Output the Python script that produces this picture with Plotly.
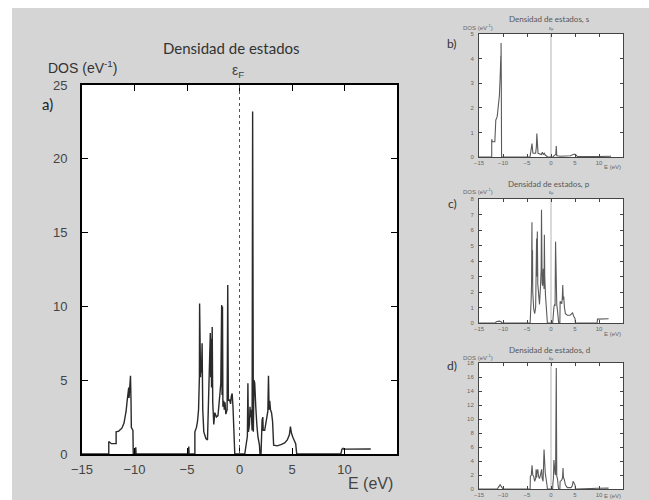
import plotly.graph_objects as go

# ---------------- data ----------------
E_FERMI = 0.0

main_E = [-15.0, -12.45, -12.45, -12.2, -11.75, -11.75, -11.5, -11.2, -11.0, -10.8, -10.7, -10.6,
          -10.55, -10.52, -10.48, -10.45, -10.42, -10.38, -10.33, -10.3, -10.15, -10.12, -9.9, -9.88,
          -9.85, -4.85, -4.83, -4.8, -4.25, -4.25, -4.1, -4.0, -3.9, -3.82, -3.8, -3.77, -3.74, -3.71,
          -3.68, -3.62, -3.56, -3.5, -3.4, -3.2, -3.05, -2.98, -2.92, -2.85, -2.78, -2.74, -2.7, -2.66,
          -2.6, -2.55, -2.45, -2.35, -2.2, -2.05, -1.95, -1.85, -1.78, -1.7, -1.66, -1.62, -1.58, -1.5,
          -1.45, -1.38, -1.3, -1.18, -1.12, -1.06, -0.95, -0.85, -0.78, -0.7, -0.62, -0.5, -0.45, 0.5,
          0.55, 0.65, 0.75, 0.8, 0.85, 0.95, 1.0, 1.05, 1.1, 1.15, 1.2, 1.25, 1.32, 1.38, 1.45, 1.5,
          1.55, 1.65, 1.75, 1.9, 1.95, 2.05, 2.08, 2.15, 2.22, 2.26, 2.4, 2.5, 2.6, 2.7, 2.76, 2.82,
          2.88, 2.95, 3.05, 3.15, 3.25, 3.6, 4.0, 4.3, 4.55, 4.75, 4.85, 4.95, 5.1, 5.25, 5.35, 5.45,
          9.65, 9.75, 9.85, 9.9, 12.5]
main_dos = [0, 0, 0.85, 0.7, 0.7, 1.5, 1.55, 1.75, 2.1, 2.9, 3.6, 4.2,
            4.5, 3.8, 4.6, 3.8, 4.5, 5.3, 3.5, 1.8, 1.6, 0, 0, 0.45,
            0, 0, 0.5, 0, 0, 1.5, 1.8, 2.2, 3.0, 5.2, 10.2, 5.3, 6.4, 5.2,
            6.3, 5.5, 7.5, 3.0, 1.5, 1.05, 0.95, 2.5, 5.0, 5.6, 8.2, 5.2, 7.8, 4.5,
            8.6, 3.5, 2.0, 2.8, 2.5, 2.6, 3.2, 4.2, 4.8, 10.1, 4.0, 10.0, 3.2, 3.6,
            3.0, 3.5, 2.7, 3.0, 11.45, 3.6, 3.7, 3.4, 3.9, 4.1, 3.2, 0.3, 0, 0,
            0.3, 0.9, 1.2, 4.8, 1.5, 2.0, 3.2, 2.5, 3.0, 2.4, 1.6, 23.2, 1.5, 5.0, 4.8, 3.5,
            3.2, 2.0, 1.2, 0.6, 0, 0, 2.0, 2.3, 2.5, 1.6, 1.6, 2.1, 2.5, 2.9, 5.3, 3.0,
            3.6, 3.0, 2.8, 2.2, 0.6, 0.55, 0.65, 0.75, 0.95, 1.3, 1.85, 1.4, 1.1, 0.9, 0.7, 0,
            0, 0.32, 0.38, 0.33, 0.34]

s_E = [-15, -12.35, -12.35, -12.2, -11.7, -11.65, -11.5, -11.2, -10.95, -10.75, -10.6, -10.55,
       -10.5, -10.48, -10.45, -10.42, -10.4, -10.35, -10.3, -4.4, -4.3, -4.1, -3.95, -3.85, -3.75,
       -3.2, -3.05, -2.95, -2.85, -2.7, -2.0, -1.8, -1.6, -1.4, -1.2, -0.9, -0.7, 0.5, 0.6, 1.0,
       1.1, 1.2, 2.0, 4.0, 4.6, 4.9, 5.2, 5.5, 9.7, 12.5]
s_dos = [0, 0, 0.72, 0.62, 0.62, 1.45, 1.5, 1.65, 2.0, 2.5, 3.2, 3.5,
         4.0, 3.4, 4.1, 3.4, 4.63, 3.0, 0, 0, 0.1, 0.3, 0.55, 0.3, 0.15,
         0.15, 0.4, 0.95, 0.4, 0.15, 0.1, 0.2, 0.1, 0.15, 0.08, 0.05, 0, 0, 0.05, 0.1,
         0.45, 0.05, 0.03, 0.05, 0.08, 0.12, 0.08, 0.02, 0.02, 0.03]

p_E = [-15, -11.6, -11.4, -10.8, -10.4, -10.2, -4.35, -4.3, -4.15, -4.05, -3.97, -3.92, -3.85,
       -3.8, -3.6, -3.4, -3.2, -3.1, -3.0, -2.95, -2.85, -2.75, -2.6, -2.4, -2.2, -2.05, -1.98,
       -1.95, -1.92, -1.85, -1.75, -1.6, -1.45, -1.38, -1.3, -1.15, -1.0, -0.8, -0.75, 0.35, 0.45,
       0.6, 0.75, 0.85, 0.95, 1.05, 1.2, 1.35, 1.5, 1.6, 1.85, 1.9, 2.1, 2.25, 2.35, 2.45, 2.55,
       2.65, 2.8, 3.0, 3.4, 4.0, 4.3, 4.5, 4.7, 5.0, 5.1, 9.6, 9.7, 12.0]
p_dos = [0, 0, 0.08, 0.12, 0.08, 0, 0, 1.2, 1.4, 2.5, 6.5, 3.5, 4.7,
         2.0, 0.9, 0.6, 1.0, 3.4, 5.45, 3.0, 5.9, 2.5, 1.5, 1.2, 2.3, 3.5, 7.3,
         3.0, 7.0, 2.6, 2.4, 3.5, 2.2, 5.7, 3.0, 1.8, 1.2, 0.3, 0, 0, 0.7,
         1.0, 1.2, 1.1, 5.25, 1.3, 1.2, 0.8, 0.2, 0, 0, 1.4, 1.3, 1.25, 1.6, 2.45, 1.5,
         1.7, 1.0, 0.6, 0.5, 0.5, 0.6, 0.65, 0.45, 0.3, 0, 0, 0.25, 0.27]

d_E = [-15, -11.2, -10.9, -10.6, -10.3, -10.0, -4.35, -4.3, -4.1, -3.95, -3.8, -3.6, -3.4,
       -3.2, -3.1, -3.0, -2.9, -2.75, -2.6, -2.4, -2.2, -2.1, -1.95, -1.85, -1.65, -1.45, -1.35,
       -1.2, -1.05, -0.95, -0.8, -0.75, 0.35, 0.4, 0.5, 0.6, 0.7, 0.85, 0.95, 1.1, 1.2, 1.35,
       1.5, 1.6, 1.85, 1.9, 2.1, 2.25, 2.4, 2.5, 2.6, 2.75, 3.0, 3.4, 4.2, 4.45, 4.6, 4.8, 5.0,
       5.1, 9.6, 9.7, 12.0]
d_dos = [0, 0, 0.3, 0.6, 0.3, 0, 0, 1.8, 2.0, 3.4, 2.0, 1.8, 1.1,
         1.5, 2.8, 1.6, 2.5, 2.8, 1.8, 1.5, 2.0, 2.3, 2.8, 1.6, 1.1, 5.65, 2.8,
         2.3, 1.6, 1.3, 0.4, 0, 0, 0.86, 1.5, 4.15, 2.8, 2.2, 2.0, 17.3, 1.8, 1.5,
         0.4, 0, 0, 1.1, 1.2, 1.3, 1.6, 3.0, 1.6, 1.4, 0.6, 0.2, 0.2, 0.5, 1.1, 0.7, 0.6,
         0, 0, 0.1, 0.12]

main_xticks = [-15, -10, -5, 0, 5, 10]
main_yticks = [0, 5, 10, 15, 20, 25]
small_xticks = [-15, -10, -5, 0, 5, 10]
s_yticks = [0, 1, 2, 3, 4, 5]
p_yticks = [0, 1, 2, 3, 4, 5, 6, 7, 8]
d_yticks = [0, 2, 4, 6, 8, 10, 12, 14, 16, 18]

panel_titles = ["Densidad de estados", "Densidad de estados, s",
                "Densidad de estados, p", "Densidad de estados, d"]
panel_letters = ["a)", "b)", "c)", "d)"]

# ---------------- figure ----------------
W, H = 649, 500
BG = "#d5d5d5"


def px(x):
    return x / W


def py(y):
    return 1 - y / H


fig = go.Figure()

fig.add_trace(go.Scatter(x=main_E, y=main_dos, mode="lines",
                         line=dict(color="#2a2a2a", width=1.4), xaxis="x", yaxis="y",
                         showlegend=False, hoverinfo="skip"))
for (ex, dy, ax) in [(s_E, s_dos, "2"), (p_E, p_dos, "3"), (d_E, d_dos, "4")]:
    fig.add_trace(go.Scatter(x=ex, y=dy, mode="lines",
                             line=dict(color="#5a5a5a", width=1.1), xaxis="x" + ax, yaxis="y" + ax,
                             showlegend=False, hoverinfo="skip"))

main_font = dict(family="Liberation Sans, Arial, sans-serif", size=13, color="#444444")
small_font = dict(family="Liberation Sans, Arial, sans-serif", size=6, color="#666666")

common_main = dict(showline=True, linecolor="black", linewidth=2, mirror="ticks",
                   ticks="inside", ticklen=6, tickwidth=1, tickcolor="black",
                   showgrid=False, zeroline=False, tickfont=main_font, automargin=False)
common_small = dict(showline=True, linecolor="#444444", linewidth=1, mirror="ticks",
                    ticks="inside", ticklen=3, tickwidth=0.8, tickcolor="#444444",
                    showgrid=False, zeroline=False, tickfont=small_font, automargin=False)

main_dom_x = [px(82), px(397)]
main_dom_y = [py(454), py(85)]
small_dom_x = [px(479), px(623)]
b_dom_y = [py(157), py(34)]
c_dom_y = [py(323), py(199)]
d_dom_y = [py(489), py(363)]

fig.update_layout(
    template="none",
    width=W, height=H,
    margin=dict(l=0, r=0, t=0, b=0, pad=0, autoexpand=False),
    paper_bgcolor=BG, plot_bgcolor="white",
    xaxis=dict(domain=main_dom_x, range=[-15, 15], tickvals=main_xticks,
               anchor="y", ticklabelstandoff=2, **common_main),
    yaxis=dict(domain=main_dom_y, range=[0, 25], tickvals=main_yticks,
               anchor="x", ticklabelstandoff=10, **common_main),
    xaxis2=dict(domain=small_dom_x, range=[-15, 15], tickvals=small_xticks,
                anchor="y2", ticklabelstandoff=0, **common_small),
    yaxis2=dict(domain=b_dom_y, range=[0, 5], tickvals=s_yticks,
                anchor="x2", ticklabelstandoff=3, **common_small),
    xaxis3=dict(domain=small_dom_x, range=[-15, 15], tickvals=small_xticks,
                anchor="y3", ticklabelstandoff=0, **common_small),
    yaxis3=dict(domain=c_dom_y, range=[0, 8], tickvals=p_yticks,
                anchor="x3", ticklabelstandoff=3, **common_small),
    xaxis4=dict(domain=small_dom_x, range=[-15, 15], tickvals=small_xticks,
                anchor="y4", ticklabelstandoff=0, **common_small),
    yaxis4=dict(domain=d_dom_y, range=[0, 18], tickvals=d_yticks,
                anchor="x4", ticklabelstandoff=3, **common_small),
)

# white strips at top and left of the scanned picture
fig.add_shape(type="rect", xref="paper", yref="paper", x0=0, x1=1, y0=py(8), y1=1,
              fillcolor="white", line=dict(width=0), layer="below")
fig.add_shape(type="rect", xref="paper", yref="paper", x0=0, x1=px(12), y0=0, y1=1,
              fillcolor="white", line=dict(width=0), layer="below")

# Fermi level lines
fig.add_shape(type="line", xref="x", yref="y domain", x0=E_FERMI, x1=E_FERMI, y0=0, y1=1,
              line=dict(color="#555555", width=1, dash="dot"))
for ax in ["2", "3", "4"]:
    fig.add_shape(type="line", xref="x" + ax, yref="y" + ax + " domain", x0=E_FERMI, x1=E_FERMI,
                  y0=0, y1=1, line=dict(color="#b5b5b5", width=1), layer="below")


def ann(text, x, y, size, family="Liberation Sans, Arial, sans-serif", color="#333333",
        xanchor="center"):
    fig.add_annotation(text=text, x=px(x), y=py(y), xref="paper", yref="paper",
                       showarrow=False, xanchor=xanchor, yanchor="middle",
                       font=dict(family=family, size=size, color=color))


# main panel texts
ann(panel_titles[0], 231, 48, 15, family="Lato, sans-serif", color="#333333")
ann("DOS (eV<sup>-1</sup>)", 46, 67, 14, xanchor="left")
ann("ε<sub>F</sub>", 238, 71, 14, color="#444444")
ann(panel_letters[0], 47, 104, 15, family="Lato, sans-serif", color="#222222")
ann("E (eV)", 370, 483, 16, color="#444444")

# small panels texts
small_y = [(19, 27, 44, 167), (184, 191, 204, 334), (350, 357, 365, 496)]
for i, (ty, dy, ly, ey) in enumerate(small_y):
    ann(panel_titles[i + 1], 549, ty, 8, family="Lato, sans-serif", color="#555555")
    ann("DOS (eV<sup>-1</sup>)", 478, dy, 6, color="#666666")
    ann("ε<sub>F</sub>", 551, dy + 1.5, 5, color="#666666")
    ann(panel_letters[i + 1], 452, ly, 12, family="Lato, sans-serif", color="#333333")
    ann("E (eV)", 612, ey, 6, color="#666666")

fig.write_html("out.html")
